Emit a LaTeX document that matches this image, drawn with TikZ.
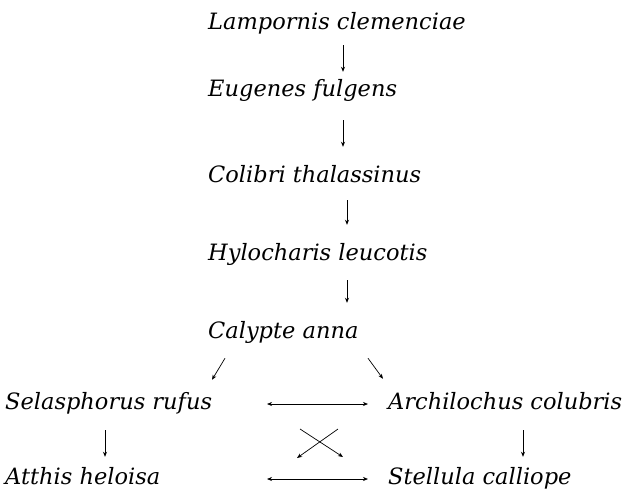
\documentclass[tikz,border=0pt]{standalone}
\usepackage{fontspec}
\setmainfont{DejaVu Serif}
\usetikzlibrary{arrows.meta,positioning}

\begin{document}
\begin{tikzpicture}[x=1pt,y=-1pt,
    species/.style={inner sep=0pt,text height=15pt,text depth=5pt,anchor=base west,font=\fontsize{22.5}{24}\selectfont\itshape},
    arr/.style={-{Stealth[length=5pt,width=4pt,inset=1.5pt]},line width=0.7pt},
    dbl/.style={{Stealth[length=5pt,width=4pt,inset=1.5pt]}-{Stealth[length=5pt,width=4pt,inset=1.5pt]},line width=0.7pt}]
      \useasboundingbox (0,0) rectangle (626,490);
      \node[species] (lam) at (208,29) {Lampornis clemenciae};
      \node[species,below=67pt of lam.base west,anchor=base west] (eug) {Eugenes fulgens};
      \node[species,below=86pt of eug.base west,anchor=base west] (col) {Colibri thalassinus};
      \node[species,below=78pt of col.base west,anchor=base west] (hyl) {Hylocharis leucotis};
      \node[species,below=78pt of hyl.base west,anchor=base west] (cal) {Calypte anna};
      \node[species] (sel) at (5,409) {Selasphorus rufus};
      \node[species] (arc) at (388,409) {Archilochus colubris};
      \node[species,below=75pt of sel.base west,anchor=base west] (att) {Atthis heloisa};
      \node[species,below=75pt of arc.base west,anchor=base west] (ste) {Stellula calliope};

      \coordinate (up) at (343,0);
      \coordinate (mid) at (347,0);
      \coordinate (lcol) at (105,0);
      \coordinate (rcol) at (523,0);
      \coordinate (hl) at (267,0);
      \coordinate (hr) at (368,0);
      \coordinate (cross) at (320,443);

      \draw[arr,shorten <=11pt,shorten >=9pt] (lam.south -| up) -- (eug.north -| up);
      \draw[arr,shorten <=19pt,shorten >=20pt] (eug.south -| up) -- (col.north -| up);
      \draw[arr,shorten <=13pt,shorten >=20pt] (col.south -| mid) -- (hyl.north -| mid);
      \draw[arr,shorten <=15pt,shorten >=20pt] (hyl.south -| mid) -- (cal.north -| mid);
      \draw[arr] ([shift={(17,15)}]cal.south west) -- ([shift={(207,-14)}]sel.north west);
      \draw[arr] ([shift={(160,15)}]cal.south west) -- ([shift={(-5,-15)}]arc.north west);
      \draw[arr,shorten <=16pt,shorten >=12pt] (sel.south -| lcol) -- (att.north -| lcol);
      \draw[arr,shorten <=16pt,shorten >=12pt] (arc.south -| rcol) -- (ste.north -| rcol);
      \draw[dbl] (sel.east -| hl) -- (arc.west -| hr);
      \draw[dbl] (att.east -| hl) -- (ste.west -| hr);
      \draw[arr] ([shift={(-20,-14)}]cross) -- ([shift={(23,14)}]cross);
      \draw[arr] ([shift={(18,-14)}]cross) -- ([shift={(-23,15)}]cross);
\end{tikzpicture}
\end{document}
